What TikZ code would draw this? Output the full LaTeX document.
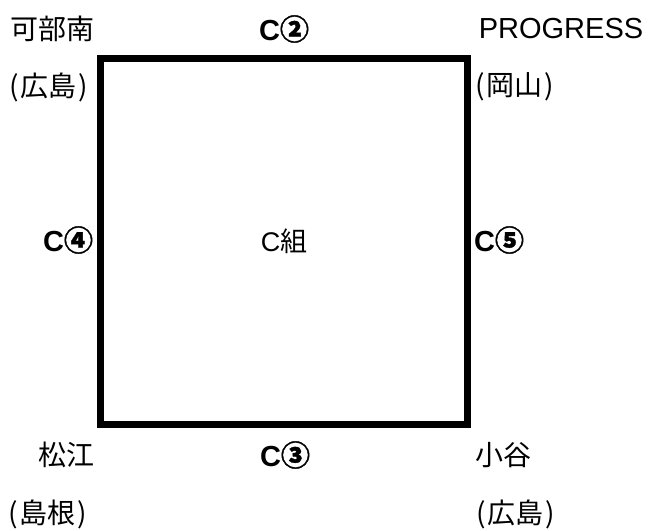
\documentclass[tikz,border=0pt]{standalone}
\usepackage{fontspec}
\setmainfont{Liberation Sans}
\newfontfamily\jp{Noto Sans CJK JP}
\newfontfamily\jpcirc{Noto Sans CJK JP}[FakeBold=1.2]
\newcommand{\paren}[1]{(\kern0.06em #1\kern0.06em)}
\begin{document}
\begin{tikzpicture}[x=1pt,y=-1pt,
  lbl/.style={inner sep=0pt,font=\fontsize{28}{32}\selectfont},
  latin/.style={inner sep=0pt,font=\fontsize{29}{32}\selectfont},
  team/.style={inner sep=0pt,font=\fontsize{29}{34}\selectfont\bfseries},
  field/.style={draw,line width=7pt,line join=miter,minimum width=367pt,minimum height=366pt,inner sep=0pt,font=\fontsize{27}{32}\selectfont}]
\useasboundingbox (0,0) rectangle (650,530);
\node[field] (box) at (284,241.5) {C\jp 組};
\node[lbl] (kabe) at (52,29) {\jp 可部南};
\node[team] (c2) at (284,29) {C\jpcirc ②};
\node[latin] (prog) at (561,29) {PROGRESS};
\node[lbl] (hiro1) at (49,87) {\jp\paren{広島}};
\node[lbl] (oka) at (515,87) {\jp\paren{岡山}};
\node[team] (c4) at (68,240) {C\jpcirc ④};
\node[team] (c5) at (499,240) {C\jpcirc ⑤};
\node[lbl] (matsu) at (66,455) {\jp 松江};
\node[team] (c3) at (285,455) {C\jpcirc ③};
\node[lbl] (otani) at (503,455) {\jp 小谷};
\node[lbl] (shima) at (48,514) {\jp\paren{島根}};
\node[lbl] (hiro2) at (516,514) {\jp\paren{広島}};
\end{tikzpicture}
\end{document}
